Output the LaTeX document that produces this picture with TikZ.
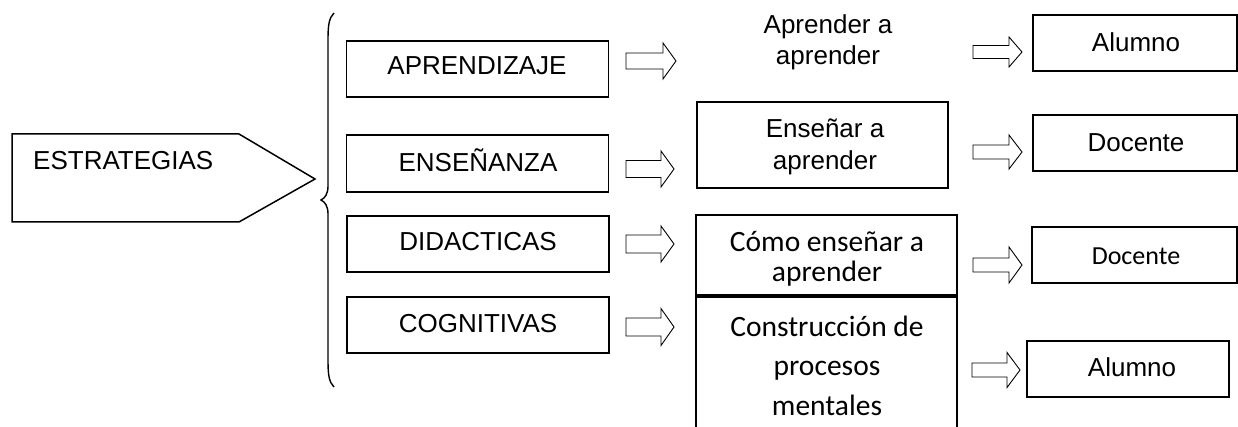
\documentclass[tikz,border=0pt]{standalone}
\usepackage{fontspec}
\setmainfont{Liberation Sans}
\newfontfamily\calib{Carlito}
\tikzset{
  box/.style={draw, line width=1.5pt, rectangle, inner sep=0pt},
  ar/.style={font=\fontsize{26}{32}\selectfont, inner sep=0pt, anchor=base},
  ca/.style={font=\calib\fontsize{29.5}{31}\selectfont, inner sep=0pt, anchor=base},
  cs/.style={font=\calib\fontsize{26}{30}\selectfont, inner sep=0pt, anchor=base},
  outl/.style={draw, line width=1.5pt, line join=miter},
  blk/.style={draw, line width=0.9pt, line join=miter},
  pics/blockarrow/.style args={#1/#2/#3/#4}{code={
    \draw[blk] (0,-#2) -- (#1-#4,-#2) -- (#1-#4,-#3) -- (#1,0) -- (#1-#4,#3) -- (#1-#4,#2) -- (0,#2) -- cycle;
  }}
}
\begin{document}
\begin{tikzpicture}[x=1pt,y=-1pt]
\clip (0,0) rectangle (1238,427);
\fill[white] (0,0) rectangle (1238,427);

% pentagon
\coordinate (p1) at (12,134);
\coordinate (p2) at (239,134);
\coordinate (p3) at (315,179);
\coordinate (p4) at (239,222);
\coordinate (p5) at (12,222);
\draw[outl] (p1) -- (p2) -- (p3) -- (p4) -- (p5) -- cycle;
\node[ar, anchor=base west] (estr) at (33,170) {ESTRATEGIAS};

% brace
\draw[line width=1.4pt] (334,13) .. controls (329,18) and (328,25) .. (328,40)
  -- (328,186) .. controls (328,194) and (325,198) .. (321,200)
  .. controls (325,202) and (328,206) .. (328,214)
  -- (328,360) .. controls (328,375) and (329,382) .. (334,387);

% left boxes
\node[box, minimum width=262pt, minimum height=56pt] (apr) at (477.5,69) {};
\node[ar] (aprt) at (477,74.5) {APRENDIZAJE};
\node[box, minimum width=262pt, minimum height=57pt] (ens) at (477.5,163.5) {};
\node[ar] (enst) at (478,172) {ENSEÑANZA};
\node[box, minimum width=262pt, minimum height=56pt] (did) at (478,244) {};
\node[ar] (didt) at (478,251) {DIDACTICAS};
\node[box, minimum width=262pt, minimum height=56pt] (cog) at (478,325) {};
\node[ar] (cogt) at (478,332) {COGNITIVAS};

% first column arrows
\pic at (626,61) {blockarrow={50/8/18/13}};
\pic at (626,169) {blockarrow={48/8.5/18/13}};
\pic at (626,244) {blockarrow={48/9/18/13}};
\pic at (626,327) {blockarrow={48/9/18.5/13}};

% middle column
\node[ar] (aa1) at (828,33.3) {Aprender a};
\node[ar] (aa2) at (828,65) {aprender};
\node[box, minimum width=251pt, minimum height=86pt] (ea) at (822.5,145) {};
\node[ar] (ea1) at (825,137.5) {Enseñar a};
\node[ar] (ea2) at (825,169.5) {aprender};
\node[box, minimum width=261pt, minimum height=80pt] (cea) at (826.5,255) {};
\node[ca] (ceat) at (827,252) {Cómo enseñar a};
\node[ca] (ceab) at (827,282) {aprender};
\draw[outl] (696,460) -- (696,297) -- (957,297) -- (957,460);
\node[ca] (cp1) at (827,336.5) {Construcción de};
\node[ca] (cp2) at (827,375.5) {procesos};
\node[ca] (cp3) at (827,415) {mentales};

% right column arrows
\pic at (973,52) {blockarrow={49/6.5/15/13}};
\pic at (973,152) {blockarrow={49/7/17/13}};
\pic at (973,265) {blockarrow={49/7/18/13}};
\pic at (972,370) {blockarrow={48/7/17.5/13}};

% right boxes
\node[box, minimum width=204pt, minimum height=56pt] (al1) at (1135,43) {};
\node[ar] (al1t) at (1136,52) {Alumno};
\node[box, minimum width=204pt, minimum height=56pt] (do1) at (1135,143) {};
\node[ar] (do1t) at (1136,152) {Docente};
\node[box, minimum width=205pt, minimum height=56pt] (do2) at (1134.5,255) {};
\node[cs] (do2t) at (1136,265) {Docente};
\node[box, minimum width=202pt, minimum height=56pt] (al2) at (1128,369) {};
\node[ar] (al2t) at (1132,376) {Alumno};
\end{tikzpicture}
\end{document}
